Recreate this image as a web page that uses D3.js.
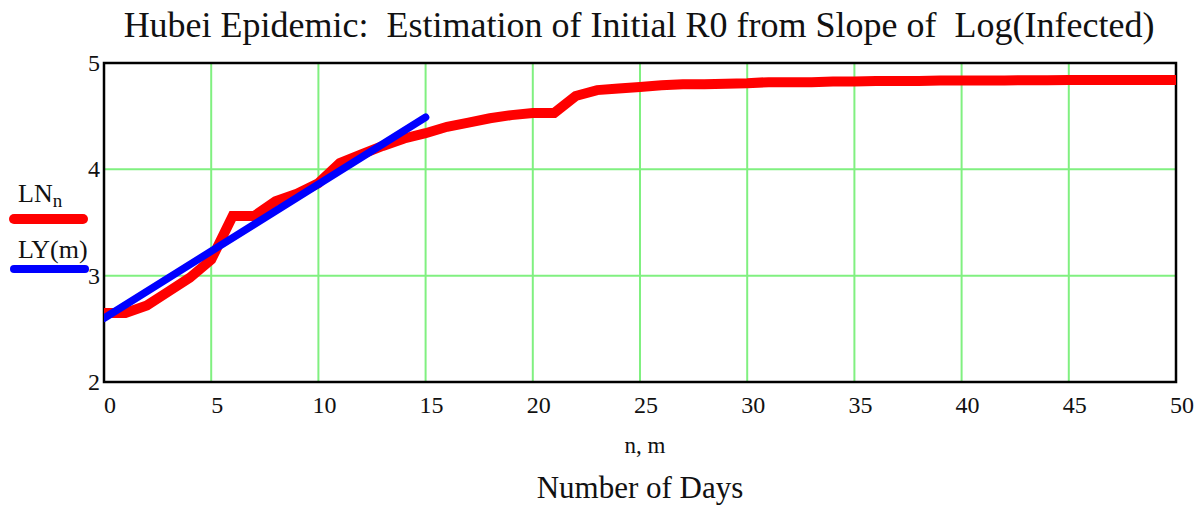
<!DOCTYPE html>
<html>
<head>
<meta charset="utf-8">
<script src="https://cdn.jsdelivr.net/npm/d3@7"></script>
<style>
  body { margin: 0; background: #fff; }
  text { font-family: "Liberation Serif", "Times New Roman", serif; fill: #111; }
</style>
</head>
<body>
<div id="chart"></div>
<script>
// red series: LN_n, log of infected, one value per day
const days = d3.range(0, 51);
const lnValues = [2.65, 2.65, 2.72, 2.85, 2.98, 3.15, 3.56, 3.56, 3.70, 3.77,
  3.87, 4.06, 4.14, 4.22, 4.29, 4.34, 4.40, 4.44, 4.48, 4.51,
  4.53, 4.53, 4.69, 4.745, 4.76, 4.775, 4.79, 4.80, 4.80, 4.805,
  4.81, 4.82, 4.82, 4.82, 4.825, 4.825, 4.83, 4.83, 4.83, 4.835,
  4.835, 4.835, 4.835, 4.838, 4.838, 4.84, 4.84, 4.84, 4.84, 4.84, 4.84];
// blue fit line LY(m)
const fitM = [0, 15];
const fitValues = [2.60, 4.49];

const xTicks = [0, 5, 10, 15, 20, 25, 30, 35, 40, 45, 50];
const yTicks = [2, 3, 4, 5];

const width = 1200, height = 507;
const margin = {top: 63, right: 24, bottom: 125, left: 104};

const svg = d3.select("#chart").append("svg")
  .attr("width", width)
  .attr("height", height);

const x = d3.scaleLinear().domain([0, 50]).range([margin.left, width - margin.right]);
const y = d3.scaleLinear().domain([2, 5]).range([height - margin.bottom, margin.top]);

// grid
svg.append("g")
  .selectAll("line")
  .data(xTicks.slice(1, -1))
  .join("line")
  .attr("x1", d => x(d)).attr("x2", d => x(d))
  .attr("y1", y(2)).attr("y2", y(5))
  .attr("stroke", "#80f080").attr("stroke-width", 2);

svg.append("g")
  .selectAll("line")
  .data(yTicks.slice(1, -1))
  .join("line")
  .attr("x1", x(0)).attr("x2", x(50))
  .attr("y1", d => y(d)).attr("y2", d => y(d))
  .attr("stroke", "#80f080").attr("stroke-width", 2);

// frame
svg.append("rect")
  .attr("x", x(0)).attr("y", y(5))
  .attr("width", x(50) - x(0)).attr("height", y(2) - y(5))
  .attr("fill", "none").attr("stroke", "#000").attr("stroke-width", 2.5);

// tick labels
svg.append("g")
  .selectAll("text")
  .data(xTicks)
  .join("text")
  .attr("x", d => x(d) + 6)
  .attr("y", 413)
  .attr("text-anchor", "middle")
  .style("font-size", "24px")
  .text(d => d);

svg.append("g")
  .selectAll("text")
  .data(yTicks)
  .join("text")
  .attr("x", 100)
  .attr("y", d => y(d) + 8)
  .attr("text-anchor", "end")
  .style("font-size", "24px")
  .text(d => d);

// lines
const clipId = "plotclip";
svg.append("clipPath").attr("id", clipId)
  .append("rect")
  .attr("x", x(0)).attr("y", y(5))
  .attr("width", x(50) - x(0)).attr("height", y(2) - y(5));

const line = d3.line().x(d => x(d[0])).y(d => y(d[1]));

svg.append("path")
  .datum(days.map((d, i) => [d, lnValues[i]]))
  .attr("clip-path", `url(#${clipId})`)
  .attr("d", line)
  .attr("fill", "none")
  .attr("stroke", "#ff0000")
  .attr("stroke-width", 10)
  .attr("stroke-linejoin", "miter");

svg.append("path")
  .datum(fitM.map((d, i) => [d, fitValues[i]]))
  .attr("clip-path", `url(#${clipId})`)
  .attr("d", line)
  .attr("fill", "none")
  .attr("stroke", "#0000ff")
  .attr("stroke-width", 7.5)
  .attr("stroke-linecap", "round");

// legend
const lnLabel = svg.append("text")
  .attr("x", 18).attr("y", 202)
  .style("font-size", "26px");
lnLabel.append("tspan").text("LN");
lnLabel.append("tspan").attr("dy", 5).style("font-size", "19px").text("n");

svg.append("line")
  .attr("x1", 14).attr("x2", 83).attr("y1", 219).attr("y2", 219)
  .attr("stroke", "#ff0000").attr("stroke-width", 10).attr("stroke-linecap", "round");

svg.append("text")
  .attr("x", 18).attr("y", 258)
  .style("font-size", "26px")
  .text("LY(m)");

svg.append("line")
  .attr("x1", 14).attr("x2", 85).attr("y1", 269).attr("y2", 269)
  .attr("stroke", "#0000ff").attr("stroke-width", 8).attr("stroke-linecap", "round");

// titles
svg.append("text")
  .attr("x", 639).attr("y", 37)
  .attr("text-anchor", "middle")
  .style("font-size", "36px")
  .style("white-space", "pre")
  .text("Hubei Epidemic:  Estimation of Initial R0 from Slope of  Log(Infected)");

svg.append("text")
  .attr("x", 645).attr("y", 453)
  .attr("text-anchor", "middle")
  .style("font-size", "23px")
  .text("n, m");

svg.append("text")
  .attr("x", 640).attr("y", 498)
  .attr("text-anchor", "middle")
  .style("font-size", "31px")
  .text("Number of Days");
</script>
</body>
</html>
